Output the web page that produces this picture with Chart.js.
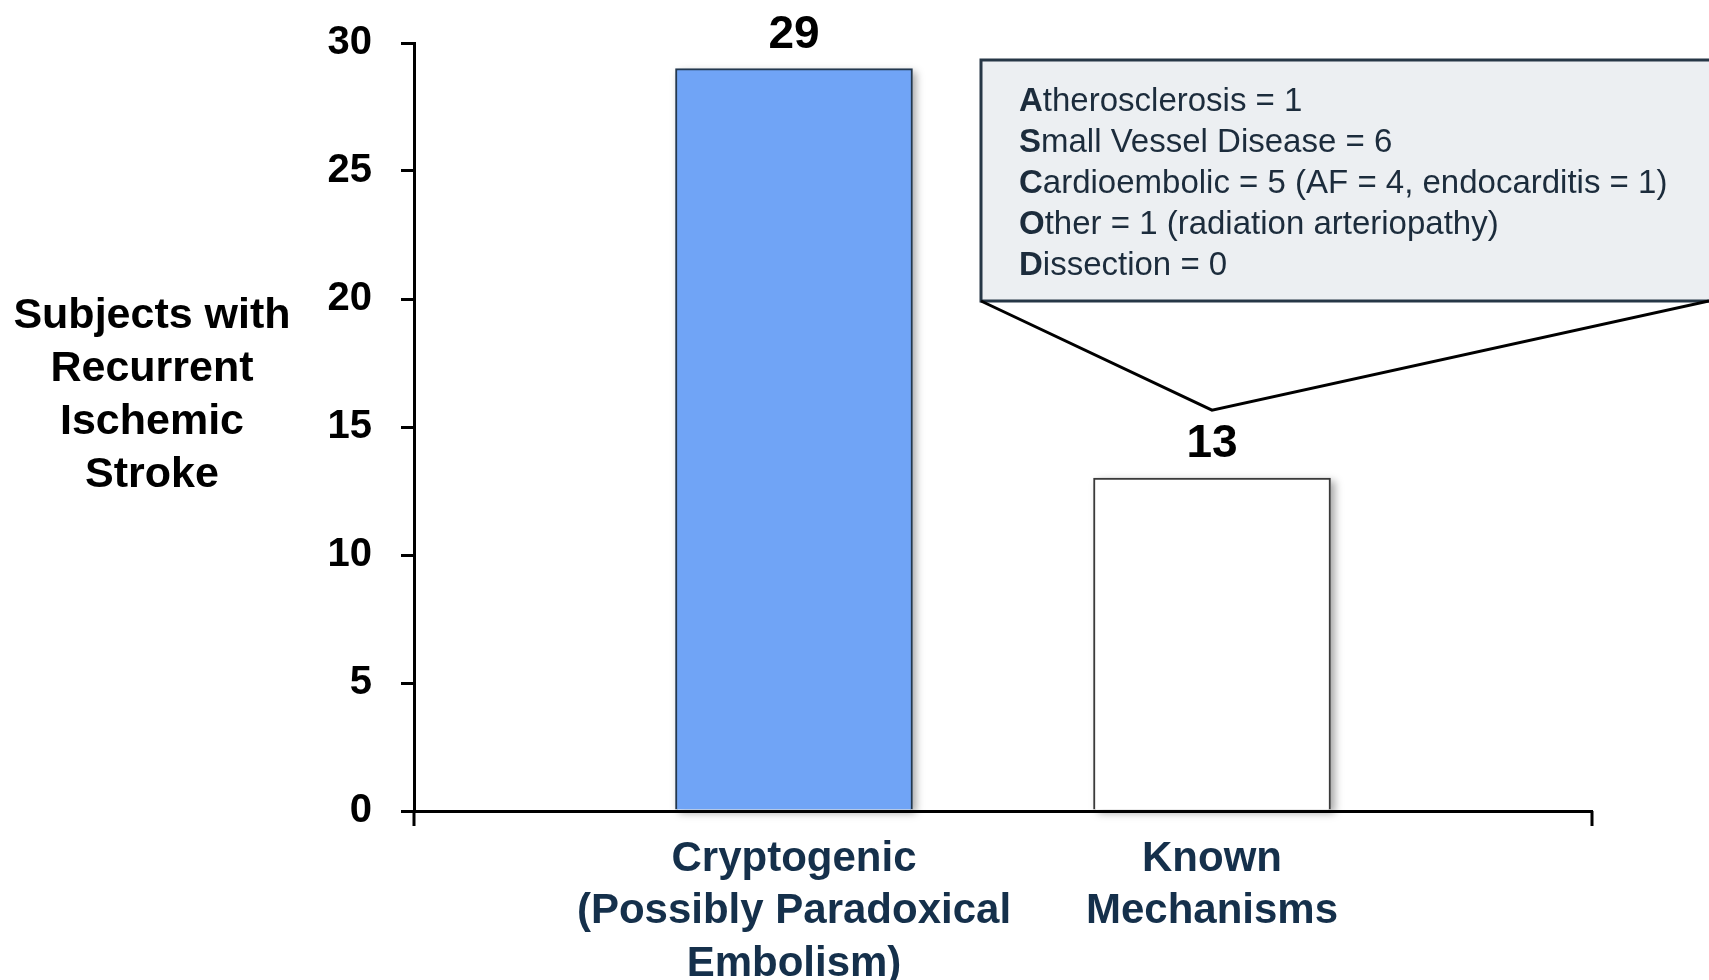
<!DOCTYPE html>
<html>
<head>
<meta charset="utf-8">
<script src="https://cdn.jsdelivr.net/npm/chart.js@4"></script>
<style>
  html, body { margin: 0; padding: 0; background: #fff; }
  #wrap { width: 1709px; height: 980px; position: relative; }
</style>
</head>
<body>
<div id="wrap"><canvas id="strokeChart"></canvas></div>
<script>
// chart values
var categories = [
    ['Cryptogenic', '(Possibly Paradoxical', 'Embolism)'],
    ['Known', 'Mechanisms']
];
var subjects = [29, 13];
var yTicks = [0, 5, 10, 15, 20, 25, 30];
var yTitle = ['Subjects with', 'Recurrent', 'Ischemic', 'Stroke'];
// first letter is drawn bold
var knownBreakdown = [
    ['A', 'therosclerosis = 1'],
    ['S', 'mall Vessel Disease = 6'],
    ['C', 'ardioembolic = 5 (AF = 4, endocarditis = 1)'],
    ['O', 'ther = 1 (radiation arteriopathy)'],
    ['D', 'issection = 0']
];

var FONT = "'Liberation Sans', Arial, Helvetica, sans-serif";
var barColors = ['#70a4f6', '#ffffff'];
var barBorders = ['#23384f', '#3a3a3a'];

var decorations = {
    id: 'decorations',
    beforeDatasetsDraw: function(chart) {
        // soft shadow behind the bars
        var ctx = chart.ctx;
        ctx.save();
        ctx.shadowColor = 'rgba(0,0,0,0.35)';
        ctx.shadowBlur = 8;
        ctx.shadowOffsetX = 4;
        ctx.shadowOffsetY = 3;
        chart.getDatasetMeta(0).data.forEach(function(bar) {
            var p = bar.getProps(['x', 'y', 'base', 'width']);
            ctx.fillStyle = '#fff';
            ctx.fillRect(p.x - p.width / 2, p.y, p.width, p.base - p.y);
        });
        ctx.restore();
    },
    afterDraw: function(chart) {
        var ctx = chart.ctx;
        var area = chart.chartArea;
        var xs = chart.scales.x;
        var ys = chart.scales.y;
        ctx.save();

        // small ticks at both ends of the x axis
        ctx.strokeStyle = '#000';
        ctx.lineWidth = 3;
        ctx.beginPath();
        ctx.moveTo(area.left, area.bottom);
        ctx.lineTo(area.left, area.bottom + 15);
        ctx.moveTo(area.right, area.bottom);
        ctx.lineTo(area.right, area.bottom + 15);
        ctx.stroke();

        // horizontal y axis title
        ctx.fillStyle = '#000';
        ctx.font = 'bold 43px ' + FONT;
        ctx.textAlign = 'center';
        ctx.textBaseline = 'middle';
        var titleTop = 316;
        yTitle.forEach(function(line, i) {
            ctx.fillText(line, 152, titleTop + i * 53);
        });

        // value labels above bars
        var meta = chart.getDatasetMeta(0);
        ctx.font = 'bold 46px ' + FONT;
        ctx.textBaseline = 'alphabetic';
        meta.data.forEach(function(bar, i) {
            ctx.fillText(String(subjects[i]), bar.x, bar.y - 21);
        });

        // callout for known mechanisms
        var apexX = xs.getPixelForValue(2);
        var apexY = ys.getPixelForValue(subjects[1]) - 68;
        var boxL = 981, boxT = 60, boxR = 1722, boxB = 301;
        ctx.fillStyle = '#eceff2';
        ctx.fillRect(boxL, boxT, boxR - boxL, boxB - boxT);
        ctx.strokeStyle = '#263746';
        ctx.lineWidth = 3;
        ctx.strokeRect(boxL, boxT, boxR - boxL, boxB - boxT);

        ctx.strokeStyle = '#000';
        ctx.beginPath();
        ctx.moveTo(boxL, boxB);
        ctx.lineTo(apexX, apexY);
        ctx.lineTo(1709, boxB);
        ctx.stroke();

        ctx.fillStyle = '#1c2c3c';
        ctx.textAlign = 'left';
        ctx.textBaseline = 'middle';
        knownBreakdown.forEach(function(item, i) {
            var y = 102 + i * 41;
            ctx.font = 'bold 33px ' + FONT;
            ctx.fillText(item[0], 1019, y);
            var w = ctx.measureText(item[0]).width;
            ctx.font = '33px ' + FONT;
            ctx.fillText(item[1], 1019 + w, y);
        });

        ctx.restore();
    }
};

new Chart(document.getElementById('strokeChart'), {
    type: 'bar',
    data: {
        datasets: [{
            data: subjects.map(function(v, i) {
                return {x: i + 1, y: v};
            }),
            backgroundColor: barColors,
            borderColor: barBorders,
            borderWidth: 2,
            barThickness: 237
        }]
    },
    options: {
        responsive: true,
        maintainAspectRatio: false,
        animation: false,
        layout: {
            padding: {top: 43, right: 117, left: 0, bottom: 0}
        },
        plugins: {
            legend: {display: false},
            tooltip: {enabled: false}
        },
        scales: {
            x: {
                type: 'linear',
                offset: false,
                min: 0.091,
                max: 2.909,
                afterBuildTicks: function(scale) {
                    scale.ticks = categories.map(function(c, i) {
                        return {value: i + 1};
                    });
                },
                afterFit: function(scale) {
                    scale.height = 169;
                    scale.paddingLeft = 0;
                    scale.paddingRight = 0;
                },
                ticks: {
                    autoSkip: false,
                    maxRotation: 0,
                    padding: 14,
                    color: '#15304b',
                    font: {family: FONT, size: 42, weight: 'bold', lineHeight: 1.25},
                    callback: function(value) {
                        return categories[value - 1] || '';
                    }
                },
                grid: {display: false, offset: false},
                border: {color: '#000', width: 3}
            },
            y: {
                min: 0,
                max: 30,
                afterBuildTicks: function(scale) {
                    scale.ticks = yTicks.map(function(v) {
                        return {value: v};
                    });
                },
                afterFit: function(scale) {
                    scale.width = 414;
                    scale.paddingTop = 0;
                    scale.paddingBottom = 0;
                },
                ticks: {
                    padding: 29,
                    color: '#000',
                    font: {family: FONT, size: 40, weight: 'bold'}
                },
                grid: {
                    drawOnChartArea: false,
                    tickLength: 13,
                    color: '#000',
                    lineWidth: 3
                },
                border: {color: '#000', width: 3}
            }
        }
    },
    plugins: [decorations]
});
</script>
</body>
</html>
